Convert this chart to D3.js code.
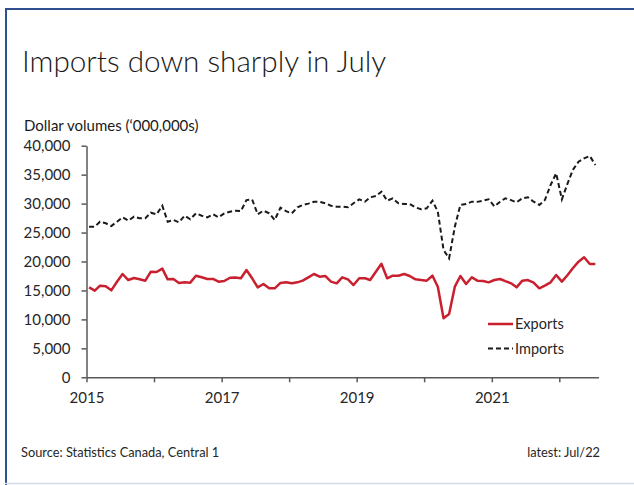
<!DOCTYPE html>
<html>
<head>
<meta charset="utf-8">
<script src="https://cdn.jsdelivr.net/npm/d3@7"></script>
<style>
  html, body { margin: 0; padding: 0; background: #fff; }
  svg { display: block; font-family: Lato, 'Open Sans', sans-serif; }
  .axis path, .axis line { stroke: #595959; stroke-width: 1.5; }
  .axis text { fill: #262626; font-size: 15px; font-family: Lato, sans-serif; }
</style>
</head>
<body>
<div id="chart"></div>
<script>
// monthly values, Jan 2015 .. Jul 2022 ($ millions)
var exportsData = [
  15540, 14960, 15820, 15710, 15020, 16510, 17840, 16800, 17150, 16920, 16690, 18240,
  18190, 18760, 16920, 16980, 16290, 16400, 16350, 17550, 17270, 16980, 16980, 16510,
  16630, 17200, 17250, 17100, 18530, 17100, 15540, 16110, 15370, 15370, 16300, 16400,
  16230, 16400, 16690, 17270, 17840, 17380, 17500, 16520, 16230, 17270, 16920, 15940,
  17100, 17100, 16800, 18240, 19600, 17100, 17550, 17550, 17840, 17500, 16920, 16800,
  16690, 17550, 15650, 10190, 10930, 15650, 17500, 16110, 17270, 16690, 16630, 16400,
  16800, 16980, 16600, 16230, 15540, 16690, 16800, 16340, 15370, 15820, 16400, 17670,
  16520, 17670, 18830, 19970, 20730, 19570, 19570
]
var importsData = [
  26010, 26010, 26870, 26600, 26130, 26870, 27630, 27050, 27740, 27460, 27460, 28430,
  28150, 29640, 26870, 27170, 26770, 27910, 27290, 28320, 27910, 27630, 28150, 27630,
  28320, 28600, 28780, 28700, 30600, 30700, 28150, 28780, 28320, 27170, 29300, 28700,
  28320, 29360, 29760, 30000, 30330, 30300, 30050, 29640, 29460, 29460, 29360, 30050,
  30740, 30330, 31090, 31300, 32060, 30500, 30910, 30050, 29930, 29930, 29360, 29020,
  29190, 30500, 28600, 22000, 20550, 26000, 29760, 29930, 30330, 30300, 30500, 30750,
  29500, 30330, 30910, 30600, 30220, 30910, 31090, 30330, 29760, 30620, 33210, 35230,
  30740, 33500, 35800, 37240, 37820, 38220, 36670
]
var seriesNames = ['Exports', 'Imports']
var yTicks = [0, 5000, 10000, 15000, 20000, 25000, 30000, 35000, 40000]
var xTickYears = [2015, 2016, 2017, 2018, 2019, 2020, 2021, 2022]
var xLabelYears = [2015, 2017, 2019, 2021]

var COLOR = { EXPORTS: '#c8202f', IMPORTS: '#1a1a1a', FRAME: '#2f4f8f', FRAME_LIGHT: '#d3dae8' }

var width = 634
var height = 485
var plot = { left: 86.5, right: 598.5, top: 145.7, bottom: 377.3 }

var svg = d3.select('#chart')
  .append('svg')
  .attr('width', width)
  .attr('height', height)

// frame
svg.append('line').attr('x1', 5).attr('x2', width).attr('y1', 9).attr('y2', 9)
  .attr('stroke', COLOR.FRAME).attr('stroke-width', 2)
svg.append('line').attr('x1', 6).attr('x2', 6).attr('y1', 8).attr('y2', height)
  .attr('stroke', COLOR.FRAME).attr('stroke-width', 2)
svg.append('line').attr('x1', 5).attr('x2', width).attr('y1', 483.5).attr('y2', 483.5)
  .attr('stroke', COLOR.FRAME_LIGHT).attr('stroke-width', 1.5)

// title
svg.append('text')
  .attr('x', 22)
  .attr('y', 72)
  .text('Imports down sharply in July')
  .attr('font-size', '29.7px')
  .attr('font-weight', 300)
  .attr('fill', '#1a1a1a')

svg.append('text')
  .attr('x', 24)
  .attr('y', 131)
  .text('Dollar volumes (\u2018000,000s)')
  .attr('font-size', '15px')
  .attr('fill', '#1a1a1a')

var x = d3.scaleTime()
  .domain([new Date(2015, 0, 1), new Date(2022, 7, 1)])
  .range([plot.left, plot.right])

var y = d3.scaleLinear()
  .domain([0, 40000])
  .range([plot.bottom, plot.top])

var monthDate = (i) => new Date(2015, i, 15)

svg.append('g')
  .attr('class', 'axis')
  .attr('transform', 'translate(' + plot.left + ',0)')
  .call(
    d3.axisLeft(y)
      .tickValues(yTicks)
      .tickFormat(d3.format(','))
      .tickSize(5)
      .tickSizeOuter(0)
      .tickPadding(11)
  )

svg.append('g')
  .attr('class', 'axis')
  .attr('transform', 'translate(0,' + plot.bottom + ')')
  .call(
    d3.axisBottom(x)
      .tickValues(xTickYears.map(yr => new Date(yr, 0, 1)))
      .tickFormat(d => xLabelYears.indexOf(d.getFullYear()) >= 0 ? d.getFullYear() : '')
      .tickSize(5)
      .tickSizeOuter(0)
      .tickPadding(10)
  )

var line = d3.line()
  .x((d, i) => x(monthDate(i)))
  .y(d => y(d))

svg.append('path')
  .datum(importsData)
  .attr('d', line)
  .attr('fill', 'none')
  .attr('stroke', COLOR.IMPORTS)
  .attr('stroke-width', 2)
  .attr('stroke-dasharray', '5,3')

svg.append('path')
  .datum(exportsData)
  .attr('d', line)
  .attr('fill', 'none')
  .attr('stroke', COLOR.EXPORTS)
  .attr('stroke-width', 2.5)
  .attr('stroke-linejoin', 'round')

// legend
var legend = svg.append('g').attr('transform', 'translate(488,324)')
seriesNames.forEach((name, i) => {
  var row = legend.append('g').attr('transform', 'translate(0,' + i * 24.5 + ')')
  row.append('line')
    .attr('x1', 0).attr('x2', 25)
    .attr('stroke', i === 0 ? COLOR.EXPORTS : COLOR.IMPORTS)
    .attr('stroke-width', i === 0 ? 2.5 : 2)
    .attr('stroke-dasharray', i === 0 ? null : '5,3')
  row.append('text')
    .attr('x', 27)
    .attr('y', 5)
    .text(name)
    .attr('font-size', '14.5px')
    .attr('fill', '#262626')
})

// footer
svg.append('text')
  .attr('x', 21)
  .attr('y', 457)
  .text('Source: Statistics Canada, Central 1')
  .attr('font-size', '12.8px')
  .attr('fill', '#262626')

svg.append('text')
  .attr('x', 600)
  .attr('y', 457)
  .attr('text-anchor', 'end')
  .text('latest: Jul/22')
  .attr('font-size', '12.8px')
  .attr('fill', '#262626')
</script>
</body>
</html>
